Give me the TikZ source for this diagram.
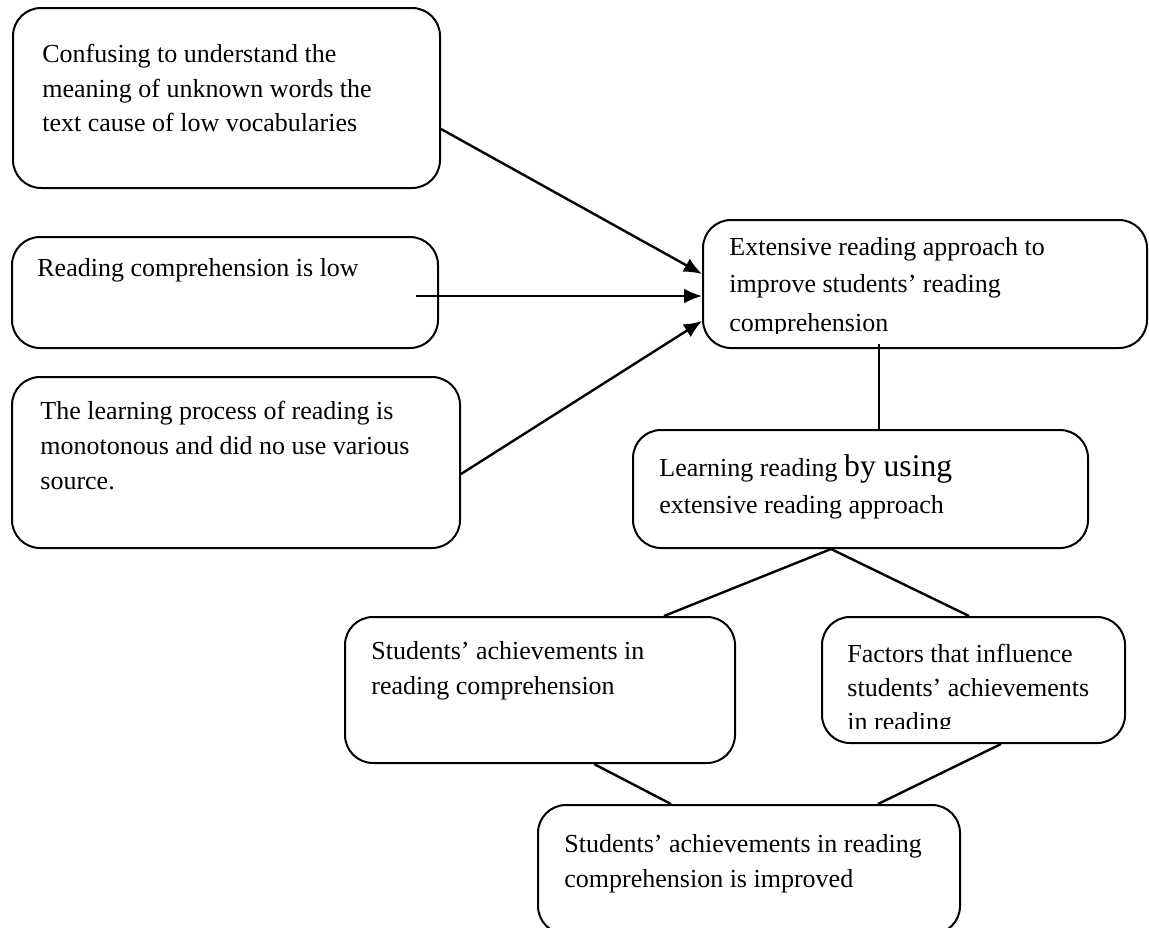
\documentclass[tikz,border=0pt]{standalone}
\usepackage{fontspec}
\setmainfont{Liberation Serif}
\usetikzlibrary{arrows.meta,fit,calc}
\begin{document}
\begin{tikzpicture}[x=0.5pt,y=-0.5pt,
  box/.style={draw, line width=1pt, rounded corners=14pt, inner sep=0pt},
  txt/.style={anchor=base west, inner sep=0pt, font=\fontsize{13}{17.5}\selectfont},
  link/.style={line width=1.2pt},
  arr/.style={link, -{Latex[length=9pt,width=7.5pt]}}]
\useasboundingbox (0,0) rectangle (1149,927);

% boxes
\node[box, fit={(13,8) (440,188)}] (A) {};
\node[box, fit={(12,237) (438,348)}] (B) {};
\node[box, fit={(12,377) (460,548)}] (C) {};
\node[box, fit={(703,220) (1147,348)}] (D) {};
\node[box, fit={(633,430) (1088,548)}] (E) {};
\node[box, fit={(345,617) (735,763)}] (F) {};
\node[box, fit={(822,617) (1125,743)}] (G) {};
\node[box, fit={(538,805) (960,934)}] (H) {};

% texts
\node[txt] (A1) at (42,62) {Confusing to understand the};
\node[txt] (A2) at (42,97) {meaning of unknown words the};
\node[txt] (A3) at (42,131) {text cause of low vocabularies};

\node[txt] (B1) at (37,276) {Reading comprehension is low};

\node[txt] (C1) at (40,419) {The learning process of reading is};
\node[txt] (C2) at (40,454) {monotonous and did no use various};
\node[txt] (C3) at (40,489) {source.};

\begin{scope}
\clip (703,220) rectangle (1148,333);
\node[txt] (D1) at (729,255) {Extensive reading approach to};
\node[txt] (D2) at (729,292) {improve students’ reading};
\node[txt] (D3) at (729,331) {comprehension};
\end{scope}

\node[txt] (E1) at (659,476) {Learning reading {\fontsize{15.8}{17.5}\selectfont by using}};
\node[txt] (E2) at (659,513) {extensive reading approach};

\node[txt] (F1) at (371,659) {Students’ achievements in};
\node[txt] (F2) at (371,694) {reading comprehension};

\begin{scope}
\clip (822,617) rectangle (1125,728);
\node[txt] (G1) at (847,662) {Factors that influence};
\node[txt] (G2) at (847,696) {students’ achievements};
\node[txt] (G3) at (847,730) {in reading};
\end{scope}

\node[txt] (H1) at (564,852) {Students’ achievements in reading};
\node[txt] (H2) at (564,887) {comprehension is improved};

% connectors
\draw[arr] ($(A.north east)+(0,122)$) -- ($(D.north west)+(0,55)$);
\draw[arr] ($(B.north east)+(-23,60)$) -- ($(D.north west)+(0,77)$);
\draw[arr] ($(C.north east)+(0,98)$) -- ($(D.north west)+(0,102)$);
\draw[link] ($(D.south west)+(177,-5)$) -- ($(E.north west)+(247,0)$);
\draw[link] ($(E.south west)+(199,0)$) -- ($(F.north west)+(320,0)$);
\draw[link] ($(E.south west)+(199,0)$) -- ($(G.north west)+(148,0)$);
\draw[link] ($(F.south west)+(250,0)$) -- ($(H.north west)+(134,0)$);
\draw[link] ($(G.south west)+(180,0)$) -- ($(H.north west)+(341,0)$);
\end{tikzpicture}
\end{document}
